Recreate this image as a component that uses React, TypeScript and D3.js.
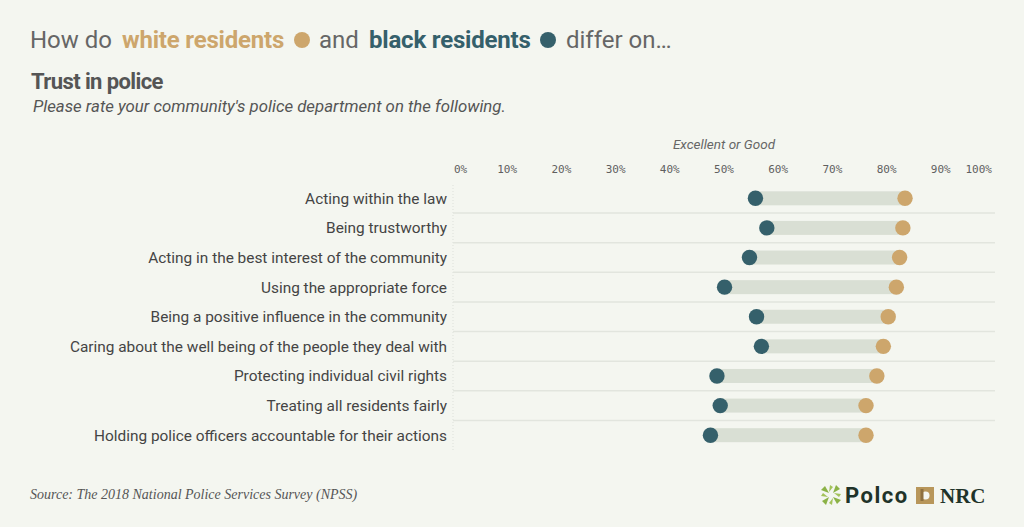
import React from "react";
import * as d3 from "d3";

const categories: string[] = [
  "Acting within the law",
  "Being trustworthy",
  "Acting in the best interest of the community",
  "Using the appropriate force",
  "Being a positive influence in the community",
  "Caring about the well being of the people they deal with",
  "Protecting individual civil rights",
  "Treating all residents fairly",
  "Holding police officers accountable for their actions",
];
const whiteValues: number[] = [83.4, 83.0, 82.4, 81.8, 80.3, 79.4, 78.2, 76.2, 76.2];
const blackValues: number[] = [55.8, 57.9, 54.7, 50.1, 56.0, 56.9, 48.7, 49.3, 47.5];
const tickValues: number[] = [0, 10, 20, 30, 40, 50, 60, 70, 80, 90, 100];
const tickLabels: string[] = ["0%", "10%", "20%", "30%", "40%", "50%", "60%", "70%", "80%", "90%", "100%"];

const W = 1024;
const H = 527;
const BG = "#f4f6f0";
const WHITE_C = "#cda66c";
const BLACK_C = "#35606b";
const BAR_C = "#d9dfd4";
const SEP_C = "#e2e5de";

export default function App() {
  const x = d3.scaleLinear().domain([0, 100]).range([453, 995]);
  const y = d3
    .scaleBand<string>()
    .domain(categories)
    .range([183.5, 450])
    .paddingInner(0)
    .paddingOuter(0);
  const bw = y.bandwidth();
  const font = "Roboto, 'Noto Sans', sans-serif";

  return (
    <svg
      width={W}
      height={H}
      viewBox={`0 0 ${W} ${H}`}
      style={{ position: "fixed", left: 0, top: 0, display: "block" }}
    >
      <rect x={0} y={0} width={W} height={H} fill={BG} />

      {/* Title */}
      <g fontFamily={font} fontSize={24}>
        <text x={30} y={48} fill="#666">How do</text>
        <text x={122} y={48} fill={WHITE_C} fontWeight={700} letterSpacing={-0.2}>white residents</text>
        <circle cx={302} cy={40} r={8} fill={WHITE_C} />
        <text x={319} y={48} fill="#666">and</text>
        <text x={369} y={48} fill={BLACK_C} fontWeight={700} letterSpacing={-0.2}>black residents</text>
        <circle cx={548} cy={40} r={8} fill={BLACK_C} />
        <text x={566} y={48} fill="#666">differ on…</text>
      </g>

      <text x={31} y={89} fontFamily={font} fontSize={22} fontWeight={700} fill="#555" letterSpacing={-0.6}>
        Trust in police
      </text>
      <text x={33} y={112} fontFamily={font} fontSize={16.8} fontStyle="italic" fill="#555">
        Please rate your community's police department on the following.
      </text>

      {/* Axis header */}
      <text x={724} y={149} textAnchor="middle" fontFamily={font} fontSize={13.5} fontStyle="italic" fill="#666">
        Excellent or Good
      </text>
      <g fontFamily="'DejaVu Sans Mono', monospace" fontSize={11} fill="#5f5f5f">
        {tickValues.map((t, i) => {
          const anchor = i === 0 ? "start" : i === tickValues.length - 1 ? "end" : "middle";
          const tx = i === 0 ? x(t) + 1 : i === tickValues.length - 1 ? x(t) - 3 : x(t);
          return (
            <text key={t} x={tx} y={173} textAnchor={anchor}>
              {tickLabels[i]}
            </text>
          );
        })}
      </g>

      {/* Left vertical dotted line */}
      <line x1={x(0)} x2={x(0)} y1={185} y2={450} stroke="#dde0da" strokeWidth={1} strokeDasharray="1,2" />

      {/* Row separators */}
      {categories.slice(1).map((c) => (
        <line key={"sep" + c} x1={x(0)} x2={x(100)} y1={y(c)!} y2={y(c)!} stroke={SEP_C} strokeWidth={1.5} />
      ))}

      {/* Rows */}
      {categories.map((c, i) => {
        const cy = y(c)! + bw / 2;
        return (
          <g key={c}>
            <text x={447} y={cy + 5.5} textAnchor="end" fontFamily={font} fontSize={15.4} fill="#444">
              {c}
            </text>
            <rect
              x={x(blackValues[i])}
              y={cy - 7}
              width={x(whiteValues[i]) - x(blackValues[i])}
              height={14}
              fill={BAR_C}
            />
            <circle cx={x(blackValues[i])} cy={cy} r={7.7} fill={BLACK_C} />
            <circle cx={x(whiteValues[i])} cy={cy} r={7.7} fill={WHITE_C} />
          </g>
        );
      })}

      {/* Source */}
      <text x={30} y={499} fontFamily="'Liberation Serif', 'DejaVu Serif', serif" fontSize={14} fontStyle="italic" fill="#555">
        Source: The 2018 National Police Services Survey (NPSS)
      </text>

      {/* Logo */}
      <g transform="translate(831,495)">
        {[0, 90, 180, 270].map((a) => (
          <g key={a} transform={`rotate(${a})`}>
            <path d="M2,-2 L5,-10 L9,-6 Z" fill="#8bb246" />
            <path d="M-2,-3 L-1,-10 L2,-8 Z" fill="#a3c25a" />
          </g>
        ))}
      </g>
      <text x={845} y={503} fontFamily={font} fontSize={22} fontWeight={700} fill="#1f3329" letterSpacing={1.5}>Polco</text>
      <rect x={916} y={487} width={18} height={17} fill="#b8965a" />
      <circle cx={925.5} cy={495.5} r={4} fill={BG} />
      <rect x={920.5} y={489} width={3} height={12} fill="#8e7040" />
      <text x={940} y={503} fontFamily="'Liberation Serif', serif" fontSize={21} fontWeight={700} fill="#1f3329">NRC</text>
    </svg>
  );
}
